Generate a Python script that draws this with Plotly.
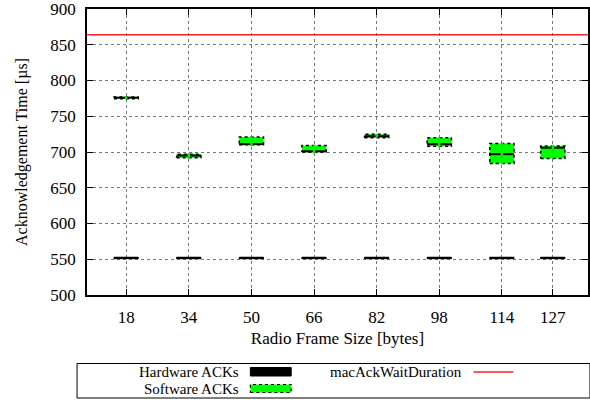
import plotly.graph_objects as go

# ---------------- data ----------------
frame_sizes = [18, 34, 50, 66, 82, 98, 114, 127]
tick_labels = ["18", "34", "50", "66", "82", "98", "114", "127"]

# Hardware ACKs (box statistics, µs)
hw_q1 = [550.8, 550.8, 550.8, 550.8, 550.8, 550.8, 550.8, 550.8]
hw_med = [552, 552, 552, 552, 552, 552, 552, 552]
hw_q3 = [552.8, 552.8, 552.8, 552.8, 552.8, 552.8, 552.8, 552.8]

# Software ACKs (box statistics, µs)
sw_min = [774, 690, 708, 698, 720, 707, 683, 691]
sw_q1 = [774.5, 692, 710, 700, 720, 708, 684, 691]
sw_med = [776, 695, 711, 701, 722, 711, 697, 706]
sw_q3 = [777, 697, 721, 709, 725, 720, 712, 708.5]
sw_max = [778, 698, 722, 710, 725.5, 721, 712.5, 710]

mac_ack_wait = 864  # µs

# ---------------- styles ----------------
FONT = "Liberation Serif, Times New Roman, DejaVu Serif, serif"
HALF = 3.1  # half box width in x units
XMIN, XMAX = 8, 136

fig = go.Figure()


def rect_path(xs, lo, hi):
    px, py = [], []
    for x, a, b in zip(xs, lo, hi):
        px += [x - HALF, x + HALF, x + HALF, x - HALF, x - HALF, None]
        py += [a, a, b, b, a, None]
    return px, py


def hseg(xs, ys):
    px, py = [], []
    for x, y in zip(xs, ys):
        px += [x - HALF, x + HALF, None]
        py += [y, y, None]
    return px, py


def vseg(xs, lo, hi):
    px, py = [], []
    for x, a, b in zip(xs, lo, hi):
        px += [x, x, None]
        py += [a, b, None]
    return px, py


# Hardware boxes
hx, hy = rect_path(frame_sizes, hw_q1, hw_q3)
fig.add_trace(go.Scatter(x=hx, y=hy, mode="lines", fill="toself",
                         fillcolor="black", line=dict(color="black", width=1),
                         showlegend=False, hoverinfo="skip"))
mx, my = hseg(frame_sizes, hw_med)
fig.add_trace(go.Scatter(x=mx, y=my, mode="lines",
                         line=dict(color="black", width=1.5),
                         showlegend=False, hoverinfo="skip"))

# Software boxes
sx, sy = rect_path(frame_sizes, sw_q1, sw_q3)
fig.add_trace(go.Scatter(x=sx, y=sy, mode="lines", fill="toself",
                         fillcolor="#00ff00",
                         line=dict(color="black", width=1.5, dash="dot"),
                         showlegend=False, hoverinfo="skip"))
smx, smy = hseg(frame_sizes, sw_med)
fig.add_trace(go.Scatter(x=smx, y=smy, mode="lines",
                         line=dict(color="black", width=2),
                         showlegend=False, hoverinfo="skip"))
# Software whiskers (green, drawn on top like the reference)
wx, wy = vseg(frame_sizes, sw_min, sw_max)
fig.add_trace(go.Scatter(x=wx, y=wy, mode="lines",
                         line=dict(color="#00ee00", width=2.5),
                         showlegend=False, hoverinfo="skip"))

# macAckWaitDuration line
fig.add_trace(go.Scatter(x=[XMIN, XMAX], y=[mac_ack_wait, mac_ack_wait],
                         mode="lines", line=dict(color="#ff2020", width=1.5),
                         showlegend=False, hoverinfo="skip"))

# ---------------- custom legend (gnuplot style) ----------------
L, T, R, B = 87, 9, 590, 295
W, H = R - L, B - T


def fx(px):
    return (px - L) / W


def fy(py):
    return (B - py) / H


shapes = []
shapes.append(dict(type="rect", xref="paper", yref="paper",
                   x0=fx(77), x1=fx(592), y0=fy(398), y1=fy(363.5),
                   line=dict(color="black", width=1), fillcolor="rgba(0,0,0,0)"))
shapes.append(dict(type="rect", xref="paper", yref="paper",
                   x0=fx(251), x1=fx(292), y0=fy(376), y1=fy(367.5),
                   line=dict(color="black", width=1), fillcolor="black"))
shapes.append(dict(type="rect", xref="paper", yref="paper",
                   x0=fx(251), x1=fx(292), y0=fy(392.5), y1=fy(384.5),
                   line=dict(color="black", width=1.2, dash="dot"), fillcolor="#00ff00"))
shapes.append(dict(type="line", xref="paper", yref="paper",
                   x0=fx(475), x1=fx(515), y0=fy(372), y1=fy(372),
                   line=dict(color="#ff2020", width=1.5)))

LEG_FS = 15
annotations = [
    dict(text="Hardware ACKs", xref="paper", yref="paper", x=fx(242), y=fy(372),
         xanchor="right", yanchor="middle", showarrow=False,
         font=dict(family=FONT, size=LEG_FS, color="black")),
    dict(text="Software ACKs", xref="paper", yref="paper", x=fx(242), y=fy(389),
         xanchor="right", yanchor="middle", showarrow=False,
         font=dict(family=FONT, size=LEG_FS, color="black")),
    dict(text="macAckWaitDuration", xref="paper", yref="paper", x=fx(466), y=fy(372),
         xanchor="right", yanchor="middle", showarrow=False,
         font=dict(family=FONT, size=LEG_FS, color="black")),
]

fig.update_layout(
    width=590, height=400,
    margin=dict(l=L, r=590 - R, t=T, b=400 - B),
    paper_bgcolor="white", plot_bgcolor="white",
    font=dict(family=FONT, size=16, color="black"),
    showlegend=False,
    shapes=shapes,
    annotations=annotations,
    xaxis=dict(
        range=[XMIN, XMAX],
        tickmode="array", tickvals=frame_sizes, ticktext=tick_labels,
        ticks="inside", ticklen=6, tickcolor="black", tickwidth=1,
        showline=True, linecolor="black", linewidth=1.5, mirror="ticks",
        showgrid=True, gridcolor="#777777", griddash="dot", gridwidth=1,
        zeroline=False,
        ticklabelstandoff=6, ticklabeloverflow="allow",
        title=dict(text="Radio Frame Size [bytes]", standoff=6,
                   font=dict(family=FONT, size=17)),
        tickfont=dict(family=FONT, size=17),
    ),
    yaxis=dict(
        range=[500, 900],
        tickmode="array", tickvals=[500, 550, 600, 650, 700, 750, 800, 850, 900],
        ticks="inside", ticklen=6, tickcolor="black", tickwidth=1,
        showline=True, linecolor="black", linewidth=1.5, mirror="ticks",
        showgrid=True, gridcolor="#777777", griddash="dot", gridwidth=1,
        zeroline=False,
        ticklabelstandoff=6, ticklabeloverflow="allow",
        title=dict(text="Acknowledgement Time [µs]", standoff=19,
                   font=dict(family=FONT, size=16)),
        tickfont=dict(family=FONT, size=17),
    ),
)

fig.write_html(
    "out.html",
    config={"displayModeBar": False},
    post_script="document.body.style.margin='0';document.body.style.overflow='hidden';",
)
